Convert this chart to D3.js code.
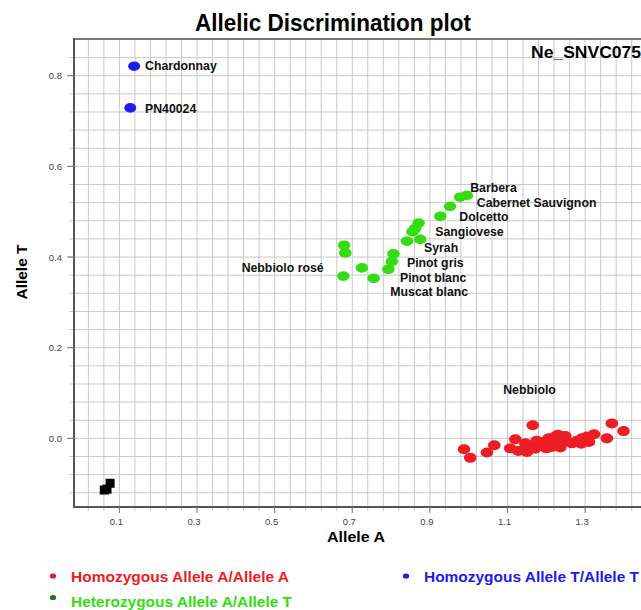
<!DOCTYPE html>
<html>
<head>
<meta charset="utf-8">
<script src="https://cdn.jsdelivr.net/npm/d3@7"></script>
<style>
  body { margin: 0; background: #fff; }
  svg { display: block; font-family: "Liberation Sans", Arial, sans-serif; }
</style>
</head>
<body>
<div id="chart"></div>
<script>
// valeurs (Allele A, Allele T)
const homoA = [
  [0.988, -0.024], [1.004, -0.043], [1.047, -0.031], [1.066, -0.015], [1.107, -0.022],
  [1.120, -0.002], [1.128, -0.028], [1.140, -0.025], [1.146, -0.011], [1.150, -0.030],
  [1.159, -0.020], [1.165, 0.029], [1.171, -0.023], [1.175, -0.005], [1.184, -0.015],
  [1.193, -0.008], [1.200, -0.022], [1.206, 0.000], [1.214, -0.019], [1.223, 0.004],
  [1.227, -0.011], [1.230, 0.008], [1.236, -0.020], [1.245, -0.008], [1.249, 0.005],
  [1.266, -0.011], [1.279, -0.005], [1.290, -0.012], [1.292, 0.000], [1.305, 0.004],
  [1.310, -0.008], [1.323, 0.009], [1.356, 0.000], [1.369, 0.033], [1.399, 0.016]
];
const hetero = [
  [0.995, 0.536], [0.978, 0.532], [0.952, 0.512], [0.927, 0.490], [0.871, 0.475],
  [0.862, 0.463], [0.855, 0.456], [0.841, 0.435], [0.875, 0.439], [0.679, 0.426],
  [0.682, 0.409], [0.806, 0.407], [0.802, 0.390], [0.793, 0.373], [0.725, 0.376],
  [0.677, 0.358], [0.755, 0.353]
];
const homoT = [[0.138, 0.821], [0.128, 0.729]];
const noCall = [[0.076, -0.099], [0.068, -0.112], [0.061, -0.114]];

// noms des cepages (position du texte en unites du graphique)
const labels = [
  ["Chardonnay", 0.166, 0.821], ["PN40024", 0.166, 0.727],
  ["Barbera", 1.004, 0.554], ["Cabernet Sauvignon", 1.021, 0.520],
  ["Dolcetto", 0.976, 0.488], ["Sangiovese", 0.914, 0.455],
  ["Syrah", 0.885, 0.420], ["Pinot gris", 0.841, 0.388],
  ["Pinot blanc", 0.823, 0.355], ["Muscat blanc", 0.798, 0.323],
  ["Nebbiolo rosé", 0.415, 0.377], ["Nebbiolo", 1.089, 0.107]
];

const xTicks = [0.1, 0.3, 0.5, 0.7, 0.9, 1.1, 1.3];
const yTicks = [0.0, 0.2, 0.4, 0.6, 0.8];

const legendItems = [
  {text: "Homozygous Allele A/Allele A", color: "#ee1c24"},
  {text: "Homozygous Allele T/Allele T", color: "#1c1cee"},
  {text: "Heterozygous Allele A/Allele T", color: "#33dd11"}
];

const width = 641;
const height = 610;

const svg = d3.select("#chart")
  .append("svg")
  .attr("width", width)
  .attr("height", height);

const x = d3.scaleLinear().domain([-0.017, 1.444]).range([74, 641]);
const y = d3.scaleLinear().domain([-0.1514, 0.881]).range([507, 39]);

// grille : pas de 0.04
const xGrid = d3.range(0.02, 1.44, 0.04);
const yGrid = d3.range(-0.12, 0.87, 0.04);

svg.append("g")
  .selectAll("line")
  .data(xGrid)
  .join("line")
  .attr("x1", d => x(d)).attr("x2", d => x(d))
  .attr("y1", y.range()[1]).attr("y2", y.range()[0] + 4)
  .attr("stroke", "#c9c9c9")
  .attr("stroke-width", 1);

svg.append("g")
  .selectAll("line")
  .data(yGrid)
  .join("line")
  .attr("x1", 69).attr("x2", width)
  .attr("y1", d => y(d)).attr("y2", d => y(d))
  .attr("stroke", "#c9c9c9")
  .attr("stroke-width", 1);

// axes
svg.append("line")
  .attr("x1", 74).attr("x2", width)
  .attr("y1", 39).attr("y2", 39)
  .attr("stroke", "#777").attr("stroke-width", 2);
svg.append("line")
  .attr("x1", 74).attr("x2", 74)
  .attr("y1", 38).attr("y2", 508)
  .attr("stroke", "#555").attr("stroke-width", 2);
svg.append("line")
  .attr("x1", 73).attr("x2", width)
  .attr("y1", 507).attr("y2", 507)
  .attr("stroke", "#555").attr("stroke-width", 2);

svg.append("g")
  .selectAll("line")
  .data(yTicks)
  .join("line")
  .attr("x1", 67).attr("x2", 74)
  .attr("y1", d => y(d)).attr("y2", d => y(d))
  .attr("stroke", "#777");

svg.append("g")
  .selectAll("line")
  .data(xTicks)
  .join("line")
  .attr("x1", d => x(d)).attr("x2", d => x(d))
  .attr("y1", 507).attr("y2", 513)
  .attr("stroke", "#777");

svg.append("g")
  .selectAll("text")
  .data(yTicks)
  .join("text")
  .attr("x", 62)
  .attr("y", d => y(d) + 3.5)
  .attr("text-anchor", "end")
  .style("font-size", "9.5px")
  .style("fill", "#444")
  .text(d => d.toFixed(1));

svg.append("g")
  .selectAll("text")
  .data(xTicks)
  .join("text")
  .attr("x", d => x(d) - 3)
  .attr("y", 525)
  .attr("text-anchor", "middle")
  .style("font-size", "9.5px")
  .style("fill", "#444")
  .text(d => d.toFixed(1));

// points
const dots = svg.append("g");
dots.selectAll(".a")
  .data(homoA)
  .join("ellipse")
  .attr("cx", d => x(d[0])).attr("cy", d => y(d[1]))
  .attr("rx", 6.3).attr("ry", 5)
  .attr("fill", legendItems[0].color);
dots.selectAll(".h")
  .data(hetero)
  .join("ellipse")
  .attr("cx", d => x(d[0])).attr("cy", d => y(d[1]))
  .attr("rx", 6.3).attr("ry", 4.8)
  .attr("fill", legendItems[2].color);
dots.selectAll(".t")
  .data(homoT)
  .join("ellipse")
  .attr("cx", d => x(d[0])).attr("cy", d => y(d[1]))
  .attr("rx", 6).attr("ry", 4.8)
  .attr("fill", legendItems[1].color);
dots.selectAll("rect")
  .data(noCall)
  .join("rect")
  .attr("x", d => x(d[0]) - 4.5).attr("y", d => y(d[1]) - 4.5)
  .attr("width", 9).attr("height", 9)
  .attr("fill", "#000");

svg.append("g")
  .selectAll("text")
  .data(labels)
  .join("text")
  .attr("x", d => x(d[1]))
  .attr("y", d => y(d[2]) + 4.3)
  .style("font-size", "12.3px")
  .style("font-weight", "bold")
  .style("fill", "#111")
  .text(d => d[0]);

// titres
svg.append("text")
  .attr("x", 195).attr("y", 31)
  .attr("textLength", 276)
  .attr("lengthAdjust", "spacingAndGlyphs")
  .style("font-size", "23.5px")
  .style("font-weight", "bold")
  .text("Allelic Discrimination plot");

svg.append("text")
  .attr("x", 531).attr("y", 58)
  .attr("textLength", 110)
  .attr("lengthAdjust", "spacingAndGlyphs")
  .style("font-size", "17px")
  .style("font-weight", "bold")
  .text("Ne_SNVC075");

svg.append("text")
  .attr("x", 327).attr("y", 542)
  .attr("textLength", 58)
  .attr("lengthAdjust", "spacingAndGlyphs")
  .style("font-size", "15.5px")
  .style("font-weight", "bold")
  .text("Allele A");

svg.append("text")
  .attr("transform", "translate(27,272) rotate(-90)")
  .attr("text-anchor", "middle")
  .style("font-size", "15.5px")
  .style("font-weight", "bold")
  .text("Allele T");

// legende
const legendPos = [[53, 576], [406, 576], [53, 601]];
const legendLen = [218, 215, 221];
const legend = svg.append("g")
  .selectAll("g")
  .data(legendItems)
  .join("g")
  .attr("transform", (d, i) => "translate(" + legendPos[i][0] + "," + legendPos[i][1] + ")");
legend.append("ellipse")
  .attr("rx", 3.2).attr("ry", 2.6)
  .attr("cy", (d, i) => i === 2 ? -3.5 : 0)
  .attr("fill", (d, i) => i === 2 ? "#1f7a1f" : d.color);
legend.append("text")
  .attr("x", 18)
  .attr("y", 5.5)
  .attr("textLength", (d, i) => legendLen[i])
  .attr("lengthAdjust", "spacingAndGlyphs")
  .style("font-size", "15px")
  .style("font-weight", "bold")
  .style("fill", d => d.color)
  .text(d => d.text);
</script>
</body>
</html>
